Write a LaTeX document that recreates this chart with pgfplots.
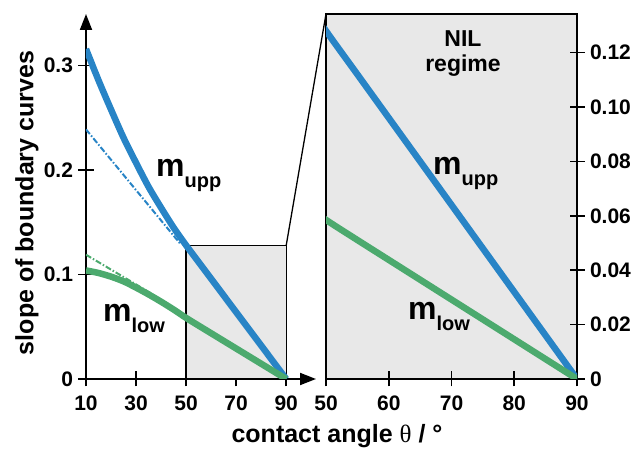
\documentclass[border=0pt]{standalone}
\usepackage{pgfplots}
\pgfplotsset{compat=1.18}
\usepackage{pgfplotstable}
\usetikzlibrary{arrows.meta}
\usepackage{fontspec}
\setmainfont{Liberation Sans}
\newfontfamily\seriffont{Liberation Serif}

\definecolor{mblue}{RGB}{40,132,198}
\definecolor{mgreen}{RGB}{76,170,110}
\definecolor{shade}{RGB}{232,232,232}

% boundary-curve slopes
\pgfplotstableread{
x  upp    low
10 0.316  0.1040
15 0.286  0.1015
20 0.258  0.0980
25 0.231  0.0935
30 0.207  0.0875
35 0.184  0.0810
40 0.164  0.0740
45 0.145  0.0665
50 0.128  0.0585
55 0.112  0.0511
60 0.096  0.0438
65 0.080  0.0365
70 0.064  0.0292
75 0.048  0.0219
80 0.032  0.0146
85 0.016  0.0073
90 0.000  0.0000
}\curves

\begin{document}
\begin{tikzpicture}
\useasboundingbox (0,0) rectangle (638pt,450pt);
\pgfplotsset{
  common/.style={
    scale only axis, anchor=south west,
    tick align=center, major tick length=15pt,
    tick style={line width=1.6pt, black},
    tick label style={font=\fontsize{21}{23}\selectfont\bfseries},
    xticklabel style={yshift=-6pt},
    /pgf/number format/assume math mode=true,
  },
  thick curve/.style={line width=6.5pt, smooth, no marks},
  dd/.style={line width=2pt, no marks, dash pattern=on 6pt off 2pt on 1.5pt off 2pt},
}

% ---- left panel: full range ----
\begin{axis}[common, name=L, at={(86pt,71pt)},
  width=230pt, height=365pt,
  xmin=10, xmax=101.9, ymin=0, ymax=0.3495,
  axis lines=left,
  axis line style={line width=1.8pt, -{Triangle[length=16pt,width=12pt]}},
  xtick={10,30,50,70,90}, xticklabels={10,30,50,70,90},
  ytick={0,0.1,0.2,0.3}, yticklabels={0,0.1,0.2,0.3},
  yticklabel style={xshift=-2pt},
]
  \addplot[draw=black, line width=1.3pt, fill=shade]
    coordinates {(50,0) (50,0.128) (90,0.128) (90,0)} -- cycle;
  \addplot[dd, mblue] coordinates {(10,0.239) (47.5,0.130)};
  \addplot[dd, mgreen] coordinates {(10,0.119) (36,0.082)};
  \addplot[thick curve, mblue] table[x=x, y=upp] {\curves};
  \addplot[thick curve, mgreen] table[x=x, y=low] {\curves};
  \coordinate (lc) at (axis cs:90,0.128);
\end{axis}

% ---- right panel: NIL regime zoom ----
\begin{axis}[common, name=R, at={(326pt,71pt)},
  width=251pt, height=365pt,
  xmin=50, xmax=90, ymin=0, ymax=0.1342,
  axis background/.style={fill=shade},
  axis line style={line width=1.6pt},
  xtick={50,60,70,80,90}, xticklabels={50,60,70,80,90},
  ytick={0,0.02,0.04,0.06,0.08,0.10,0.12},
  yticklabels={0,0.02,0.04,0.06,0.08,0.10,0.12},
  yticklabel style={xshift=2pt},
  xtick pos=bottom, ytick pos=right, yticklabel pos=right,
]
  \addplot[thick curve, mblue] table[x=x, y=upp] {\curves};
  \addplot[thick curve, mgreen] table[x=x, y=low] {\curves};
\end{axis}

\draw[line width=1.3pt] (lc) -- (R.north west);

% ---- labels ----
\node[rotate=90, font=\fontsize{25}{28}\selectfont\bfseries] at (27pt,247pt)
  {slope of boundary curves};
\node[anchor=base, font=\fontsize{25}{28}\selectfont\bfseries] at (337pt,7pt)
  {contact angle {\seriffont\mdseries θ} / °};

\node[anchor=base west, inner sep=0pt, font=\fontsize{32}{34}\selectfont\bfseries]
  at (156pt,273pt) {m\raisebox{-11pt}{\fontsize{20}{22}\selectfont upp}};
\node[anchor=base west, inner sep=0pt, font=\fontsize{32}{34}\selectfont\bfseries]
  at (103pt,128pt) {m\raisebox{-11pt}{\fontsize{20}{22}\selectfont low}};
\node[anchor=base west, inner sep=0pt, font=\fontsize{32}{34}\selectfont\bfseries]
  at (433pt,275pt) {m\raisebox{-11pt}{\fontsize{20}{22}\selectfont upp}};
\node[anchor=base west, inner sep=0pt, font=\fontsize{32}{34}\selectfont\bfseries]
  at (408pt,130pt) {m\raisebox{-11pt}{\fontsize{20}{22}\selectfont low}};

\node[anchor=base, font=\fontsize{23}{25}\selectfont\bfseries] at (463pt,403pt) {NIL};
\node[anchor=base, font=\fontsize{23}{25}\selectfont\bfseries] at (463pt,378pt) {regime};
\end{tikzpicture}
\end{document}
